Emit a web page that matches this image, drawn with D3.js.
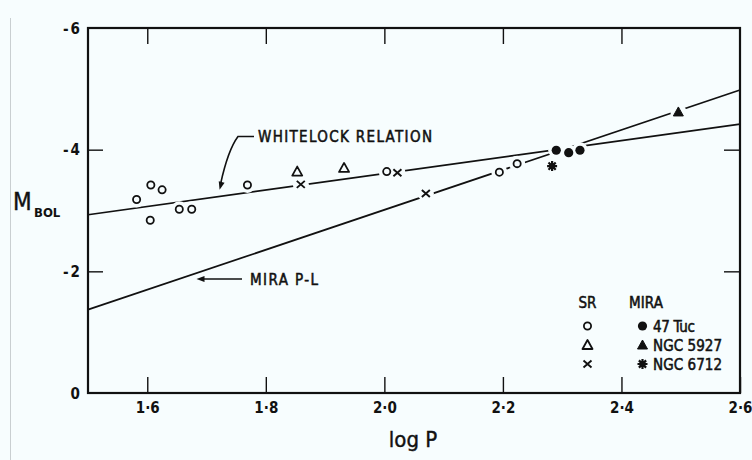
<!DOCTYPE html>
<html>
<head>
<meta charset="utf-8">
<script src="https://cdn.jsdelivr.net/npm/d3@7"></script>
<style>
  html, body { margin: 0; padding: 0; background: #f7fdfe; }
  svg { display: block; }
  text { font-family: "DejaVu Sans Condensed", "DejaVu Sans", sans-serif; fill: #111; }
</style>
</head>
<body>
<script>
// ---- data --------------------------------------------------------------
const logPTicks = [1.6, 1.8, 2.0, 2.2, 2.4, 2.6];
const mbolTicks = [0, -2, -4, -6];

// semi-regular variables [log P, M_bol]
const srCircles   = [[1.582, -3.18], [1.606, -3.42], [1.625, -3.34], [1.605, -2.84],
                     [1.654, -3.02], [1.675, -3.02], [1.769, -3.42], [2.004, -3.64],
                     [2.194, -3.63], [2.224, -3.77]];
const srTriangles = [[1.853, -3.64], [1.932, -3.70]];
const srCrosses   = [[1.859, -3.43], [2.022, -3.62], [2.070, -3.28]];

// Miras in globular clusters
const mira47Tuc   = [[2.290, -3.99], [2.311, -3.95], [2.330, -3.99]];
const miraNGC5927 = [[2.496, -4.62]];
const miraNGC6712 = [[2.283, -3.73]];

// relations, given by their end points
const whitelockRelation = [[1.5, -2.93], [2.6, -4.42]];
const miraPL            = [[1.5, -1.37], [2.6, -4.98]];

// ---- layout ------------------------------------------------------------
const W = 752, H = 460;
const frame = { left: 88, right: 740, top: 28, bottom: 393 };
const bg = "#f7fdfe", ink = "#111";
const FONT = "'DejaVu Sans Condensed', 'DejaVu Sans', sans-serif";

const x = d3.scaleLinear().domain([1.5, 2.6]).range([frame.left, frame.right]);
const y = d3.scaleLinear().domain([0, -6]).range([frame.bottom, frame.top]);

const svg = d3.select("body").append("svg")
  .attr("width", W).attr("height", H);

svg.append("rect").attr("width", W).attr("height", H).attr("fill", bg);

// faint edge line along the left of the sheet
svg.append("line").attr("x1", 10.5).attr("x2", 10.5).attr("y1", 18).attr("y2", H)
  .attr("stroke", "#c9cfd1").attr("stroke-width", 1);

// ---- relation lines ----------------------------------------------------
const line = d3.line().x(d => x(d[0])).y(d => y(d[1]));
[whitelockRelation, miraPL].forEach(rel => {
  svg.append("path").attr("d", line(rel))
    .attr("fill", "none").attr("stroke", ink).attr("stroke-width", 1.7);
});

// paper-coloured halos so the lines break around each symbol
const allPoints = [].concat(srCircles, srTriangles, srCrosses, mira47Tuc, miraNGC5927, miraNGC6712);
svg.append("g").selectAll("circle").data(allPoints).join("circle")
  .attr("cx", d => x(d[0])).attr("cy", d => y(d[1])).attr("r", 8)
  .attr("fill", bg);

// ---- frame and axes ----------------------------------------------------
const fmt = d => d3.format(".1f")(d).replace(".", "\u00b7");

const gBottom = svg.append("g").attr("transform", `translate(0,${frame.bottom})`)
  .call(d3.axisBottom(x).tickValues(logPTicks).tickSize(-16).tickPadding(9).tickFormat(fmt));
const gTop = svg.append("g").attr("transform", `translate(0,${frame.top})`)
  .call(d3.axisTop(x).tickValues(logPTicks.slice(0, 5)).tickSize(-16).tickFormat(""));
const gLeft = svg.append("g").attr("transform", `translate(${frame.left},0)`)
  .call(d3.axisLeft(y).tickValues(mbolTicks).tickSize(0).tickPadding(6)
    .tickFormat(d => d === 0 ? "0" : "-" + Math.abs(d)));
const gLeftTicks = svg.append("g").attr("transform", `translate(${frame.left},0)`)
  .call(d3.axisLeft(y).tickValues([-2, -4]).tickSize(-15).tickFormat(""));
const gRight = svg.append("g").attr("transform", `translate(${frame.right},0)`)
  .call(d3.axisRight(y).tickValues([-2, -4]).tickSize(-16).tickFormat(""));

[gBottom, gTop, gLeft, gLeftTicks, gRight].forEach(g => {
  g.select(".domain").remove();
  g.selectAll(".tick line").attr("stroke", ink).attr("stroke-width", 1.4);
  g.selectAll("text").attr("fill", ink)
    .style("font-family", FONT)
    .style("font-weight", "bold").style("font-size", "15px");
});
gLeft.selectAll("text").attr("dy", "0.35em").style("letter-spacing", "2px");

svg.append("rect")
  .attr("x", frame.left).attr("y", frame.top)
  .attr("width", frame.right - frame.left).attr("height", frame.bottom - frame.top)
  .attr("fill", "none").attr("stroke", ink).attr("stroke-width", 2.2);

// ---- symbols -----------------------------------------------------------
function openCircle(g, data) {
  g.selectAll(null).data(data).join("circle")
    .attr("cx", d => x(d[0])).attr("cy", d => y(d[1])).attr("r", 3.6)
    .attr("fill", "none").attr("stroke", ink).attr("stroke-width", 1.8);
}
function triangle(g, data, filled) {
  g.selectAll(null).data(data).join("path")
    .attr("transform", d => `translate(${x(d[0])},${y(d[1])})`)
    .attr("d", "M0,-5L5,4L-5,4Z")
    .attr("fill", filled ? ink : "none").attr("stroke", ink)
    .attr("stroke-width", filled ? 1 : 1.8).attr("stroke-linejoin", "round");
}
function cross(g, data) {
  g.selectAll(null).data(data).join("path")
    .attr("transform", d => `translate(${x(d[0])},${y(d[1])})`)
    .attr("d", "M-4,-3.5L4,3.5M-4,3.5L4,-3.5")
    .attr("fill", "none").attr("stroke", ink).attr("stroke-width", 1.9);
}
function dot(g, data) {
  g.selectAll(null).data(data).join("circle")
    .attr("cx", d => x(d[0])).attr("cy", d => y(d[1])).attr("r", 4.6)
    .attr("fill", ink);
}
function star(g, data) {
  const s = g.selectAll(null).data(data).join("g")
    .attr("transform", d => `translate(${x(d[0])},${y(d[1])})`);
  s.append("path")
    .attr("d", "M-5,0L5,0M0,-5L0,5M-3.6,-3.6L3.6,3.6M-3.6,3.6L3.6,-3.6")
    .attr("stroke", ink).attr("stroke-width", 2.2);
  s.append("circle").attr("r", 3).attr("fill", ink);
}

const gMarks = svg.append("g");
openCircle(gMarks, srCircles);
triangle(gMarks, srTriangles, false);
cross(gMarks, srCrosses);
dot(gMarks, mira47Tuc);
triangle(gMarks, miraNGC5927, true);
star(gMarks, miraNGC6712);

// ---- annotations -------------------------------------------------------
// lettering is drawn with a thin outline so the strokes read like stencilled ink
const label = (tx, ty, str, size, opts = {}) => {
  const t = svg.append("text").attr("x", tx).attr("y", ty).text(str)
    .style("font-size", size + "px").style("font-family", FONT)
    .attr("stroke", ink).attr("stroke-width", opts.stroke ?? 0.5);
  if (opts.width) t.attr("textLength", opts.width).attr("lengthAdjust", "spacing");
  if (opts.weight) t.style("font-weight", opts.weight);
  if (opts.anchor) t.attr("text-anchor", opts.anchor);
  return t;
};

// Whitelock relation callout with curved arrow
label(258, 142, "WHITELOCK RELATION", 15, { width: 174 });
const wTip = [x(1.722), y(-3.34)];
svg.append("path")
  .attr("d", `M254,136.5L238,136.5Q228,150 ${wTip[0] + 1},${wTip[1] - 6}`)
  .attr("fill", "none").attr("stroke", ink).attr("stroke-width", 1.6);
svg.append("path")
  .attr("transform", `translate(${wTip[0]},${wTip[1]}) rotate(15)`)
  .attr("d", "M0,0L-3,-8L3,-8Z").attr("fill", ink);

// Mira P-L callout with straight arrow
label(250, 285, "MIRA P-L", 15, { width: 68 });
const mTip = [x(1.683), y(-1.875)];
svg.append("line")
  .attr("x1", mTip[0] + 6).attr("x2", 242).attr("y1", mTip[1]).attr("y2", mTip[1])
  .attr("stroke", ink).attr("stroke-width", 1.6);
svg.append("path")
  .attr("transform", `translate(${mTip[0]},${mTip[1]})`)
  .attr("d", "M0,0L8,-3L8,3Z").attr("fill", ink);

// ---- legend ------------------------------------------------------------
const legX1 = 587.5, legX2 = 642.5;
const legRows = [326, 345, 364];
label(legX1, 308, "SR", 15, { anchor: "middle" });
label(629, 308, "MIRA", 15, { width: 34 });
const gLeg = svg.append("g");
openCircle(gLeg, [[x.invert(legX1), y.invert(legRows[0])]]);
triangle(gLeg, [[x.invert(legX1), y.invert(legRows[1])]], false);
cross(gLeg, [[x.invert(legX1), y.invert(legRows[2])]]);
dot(gLeg, [[x.invert(legX2), y.invert(legRows[0])]]);
triangle(gLeg, [[x.invert(legX2), y.invert(legRows[1])]], true);
star(gLeg, [[x.invert(legX2), y.invert(legRows[2])]]);
label(653, legRows[0] + 5.5, "47 Tuc", 15, { width: 42 });
label(653, legRows[1] + 5.5, "NGC 5927", 15, { width: 69 });
label(653, legRows[2] + 5.5, "NGC 6712", 15, { width: 69 });

// ---- axis titles -------------------------------------------------------
label(13, 210, "M", 24, { stroke: 0.4 });
label(34, 217, "BOL", 13, { weight: "bold", stroke: 0 });
label(413, 447, "log P", 22, { anchor: "middle", stroke: 0.4 });
</script>
</body>
</html>
